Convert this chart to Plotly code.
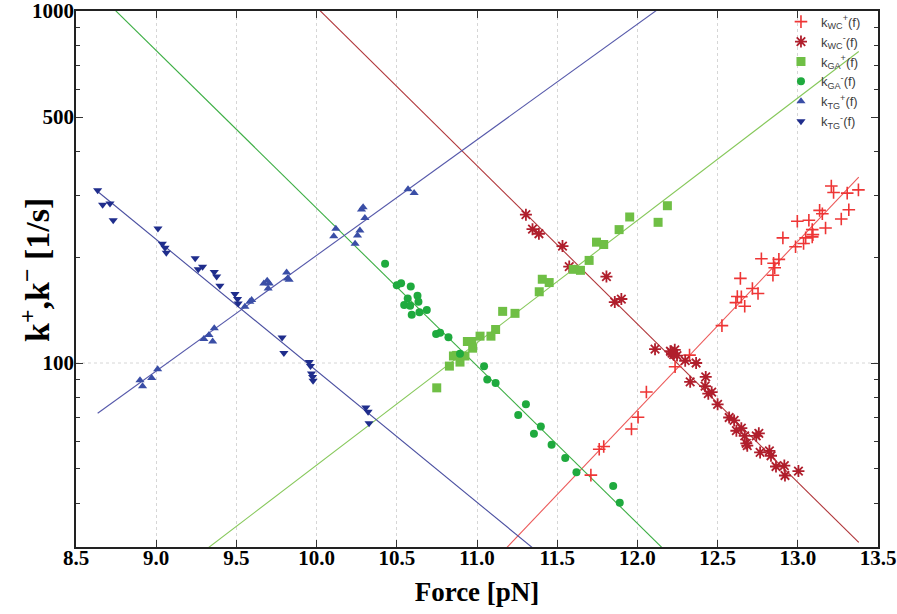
import plotly.graph_objects as go

# ---------------- data ----------------
wc_plus_x = [11.710, 11.762, 11.790, 11.963, 12.004, 12.056, 12.235, 12.325, 12.527, 12.614,
             12.623, 12.648, 12.642, 12.669, 12.717, 12.752, 12.773, 12.849, 12.856, 12.845,
             12.882, 12.907, 12.986, 12.997, 13.036, 13.049, 13.069, 13.090, 13.094, 13.090,
             13.136, 13.153, 13.173, 13.209, 13.223, 13.271, 13.308, 13.318, 13.378]
wc_plus_y = [48.0, 56.9, 57.9, 64.9, 70.1, 82.7, 97.6, 105.3, 127.7, 148.5,
             154.6, 154.3, 174.0, 145.0, 162.8, 157.6, 197.9, 192.0, 186.6, 177.6,
             197.0, 226.8, 213.9, 252.8, 218.5, 226.8, 254.4, 239.3, 231.7, 228.3,
             271.5, 265.6, 242.0, 318.6, 305.3, 256.7, 303.9, 272.7, 310.5]

wc_minus_x = [11.305, 11.346, 11.386, 11.533, 11.575, 11.807, 11.859, 11.900, 12.110, 12.206,
              12.216, 12.226, 12.233, 12.247, 12.298, 12.366, 12.426, 12.329, 12.422, 12.442,
              12.463, 12.500, 12.572, 12.603, 12.617, 12.648, 12.669, 12.679, 12.685, 12.741,
              12.757, 12.765, 12.823, 12.833, 12.864, 12.916, 12.920, 13.004]
wc_minus_y = [264.0, 240.0, 233.0, 215.0, 188.0, 176.0, 149.0, 152.0, 109.5, 108.0,
              106.7, 105.6, 109.0, 105.0, 101.5, 100.0, 91.3, 88.4, 86.0, 81.8,
              82.6, 76.3, 70.0, 68.7, 64.2, 65.3, 62.1, 59.1, 58.2, 62.1,
              63.1, 55.7, 56.3, 54.5, 50.8, 51.1, 47.9, 49.3]

ga_plus_x = [10.749, 10.828, 10.853, 10.873, 10.894, 10.925, 10.940, 10.967, 10.973, 11.019,
             11.087, 11.116, 11.160, 11.237, 11.388, 11.407, 11.450, 11.600, 11.645, 11.699,
             11.745, 11.790, 11.886, 11.952, 12.129, 12.187]
ga_plus_y = [85.0, 98.0, 104.7, 105.1, 100.6, 104.7, 115.1, 115.1, 110.2, 119.2,
             119.2, 124.5, 140.2, 138.4, 159.4, 173.0, 169.3, 184.6, 183.4, 195.7,
             220.5, 217.2, 239.4, 260.0, 251.1, 279.9]

ga_minus_x = [10.427, 10.500, 10.527, 10.587, 10.568, 10.546, 10.583, 10.629, 10.635, 10.593,
              10.641, 10.687, 10.745, 10.770, 10.822, 10.894, 11.044, 11.064, 11.116, 11.305,
              11.257, 11.398, 11.355, 11.465, 11.550, 11.620, 11.849, 11.890]
ga_minus_y = [191.5, 166.4, 168.6, 165.0, 152.6, 146.1, 145.4, 155.2, 149.3, 137.2,
              139.3, 141.4, 121.0, 121.8, 118.4, 106.2, 97.9, 89.7, 87.8, 76.3,
              71.2, 66.0, 62.9, 58.6, 53.7, 48.9, 44.7, 40.1]

tg_plus_x = [8.899, 8.915, 8.972, 9.009, 9.297, 9.329, 9.352, 9.362, 9.553, 9.584,
             9.595, 9.671, 9.692, 9.705, 9.698, 9.813, 9.819, 9.829, 10.107, 10.120,
             10.240, 10.255, 10.270, 10.280, 10.290, 10.301, 10.570, 10.608]
tg_plus_y = [89.3, 85.9, 90.7, 96.0, 117.1, 120.2, 115.2, 125.6, 144.6, 149.4,
             151.0, 168.3, 171.2, 168.3, 162.9, 180.7, 173.8, 172.4, 229.4, 240.7,
             218.3, 230.4, 238.0, 272.9, 277.1, 258.5, 312.0, 304.0]

tg_minus_x = [8.635, 8.666, 8.712, 8.732, 9.011, 9.038, 9.055, 9.063, 9.243, 9.262,
              9.289, 9.362, 9.377, 9.397, 9.491, 9.507, 9.511, 9.785, 9.796, 9.954,
              9.962, 9.968, 9.975, 9.978, 10.307, 10.321, 10.327]
tg_minus_y = [309.6, 281.8, 283.8, 254.6, 241.2, 218.3, 212.7, 205.9, 198.4, 184.7,
              187.6, 181.5, 176.1, 165.8, 157.0, 151.9, 147.7, 118.2, 106.7, 100.6,
              98.1, 93.3, 91.3, 89.1, 74.8, 72.7, 67.4]

# fitted exponential lines: values at the two ends of the fitted force range
fit_x = [8.635, 13.38]
fit_wc_plus_y = [1.785, 337.3]
fit_wc_minus_y = [4220.0, 30.9]
fit_ga_plus_y = [17.18, 768.0]
fit_ga_minus_y = [1126.0, 8.43]
fit_tg_plus_y = [72.0, 2609.0]
fit_tg_minus_y = [307.3, 5.19]

x_ticks = [8.5, 9.0, 9.5, 10.0, 10.5, 11.0, 11.5, 12.0, 12.5, 13.0, 13.5]
y_ticks = [100, 500, 1000]
y_minor = [40, 50, 60, 70, 80, 90, 200, 300, 400, 600, 700, 800, 900]

# ---------------- figure ----------------
fig = go.Figure()

lines = [
    (fit_wc_plus_y, "#ec5a5a"),
    (fit_wc_minus_y, "#b0363a"),
    (fit_ga_plus_y, "#86c85a"),
    (fit_ga_minus_y, "#3cae44"),
    (fit_tg_plus_y, "#5558aa"),
    (fit_tg_minus_y, "#4a4fa0"),
]
for ys, col in lines:
    fig.add_trace(go.Scatter(x=fit_x, y=ys, mode="lines",
                             line=dict(color=col, width=1.1),
                             showlegend=False, hoverinfo="skip"))

series = [
    (wc_plus_x, wc_plus_y, "k<sub>WC</sub><sup>+</sup>(f)",
     dict(symbol="cross-thin-open", size=9, color="#ee3535", line=dict(width=1.6, color="#ee3535"))),
    (wc_minus_x, wc_minus_y, "k<sub>WC</sub><sup>-</sup>(f)",
     dict(symbol="asterisk-open", size=10, color="#b01e2c", line=dict(width=1.8, color="#b01e2c"))),
    (ga_plus_x, ga_plus_y, "k<sub>GA</sub><sup>+</sup>(f)",
     dict(symbol="square", size=9, color="#6fbf45", line=dict(width=0))),
    (ga_minus_x, ga_minus_y, "k<sub>GA</sub><sup>-</sup>(f)",
     dict(symbol="circle", size=8, color="#1faa3e", line=dict(width=0))),
    (tg_plus_x, tg_plus_y, "k<sub>TG</sub><sup>+</sup>(f)",
     dict(symbol="triangle-up", size=8, color="#3a4ea6", line=dict(width=0))),
    (tg_minus_x, tg_minus_y, "k<sub>TG</sub><sup>-</sup>(f)",
     dict(symbol="triangle-down", size=8, color="#1f2d8c", line=dict(width=0))),
]
for xs, ys, name, mk in series:
    fig.add_trace(go.Scatter(x=xs, y=ys, mode="markers", name=name, marker=mk))

axis_font = dict(family="Liberation Serif", size=21, color="black")

fig.update_layout(
    width=897, height=614,
    margin=dict(l=76, r=19, t=7, b=67),
    paper_bgcolor="white", plot_bgcolor="white",
    font=dict(family="Liberation Serif", color="black"),
    legend=dict(x=0.985, y=1.008, xanchor="right", yanchor="top",
                bgcolor="rgba(0,0,0,0)", borderwidth=0,
                font=dict(family="Liberation Sans", size=13, color="#404040"),
                itemwidth=30, tracegroupgap=0),
    xaxis=dict(
        range=[8.5, 13.5], tickvals=x_ticks, automargin=False,
        ticktext=[f"<b>{v:.1f}</b>" for v in x_ticks],
        tickfont=axis_font, ticklabelstandoff=-9,
        ticks="inside", ticklen=7, tickwidth=1.2, tickcolor="#333",
        showline=True, linecolor="#222", linewidth=1.6, mirror="ticks",
        showgrid=True, gridcolor="#d6d6d6", griddash="dot", gridwidth=1,
        zeroline=False,
        title=dict(text="<b>Force [pN]</b>",
                   font=dict(family="Liberation Serif", size=27, color="black"),
                   standoff=13),
    ),
    yaxis=dict(
        type="log", range=[1.4771, 3.0004], automargin=False,
        tickvals=y_ticks, ticktext=[f"<b>{v}</b>" for v in y_ticks],
        tickfont=axis_font, ticklabelstandoff=-4, ticklabeloverflow="allow",
        ticks="inside", ticklen=7, tickwidth=1.2, tickcolor="#333",
        minor=dict(tickvals=y_minor, ticks="inside", ticklen=4, tickcolor="#333",
                   showgrid=False),
        showline=True, linecolor="#222", linewidth=1.6, mirror="ticks",
        showgrid=False, zeroline=False,
    ),
    shapes=[dict(type="line", xref="paper", yref="y", x0=0, x1=1, y0=100, y1=100,
                 line=dict(color="#d6d6d6", width=1, dash="dot"), layer="below")],
    annotations=[dict(text="<b>k<sup>+</sup>,k<sup>−</sup> [1/s]</b>",
                      xref="paper", yref="paper", x=0, y=0.5,
                      xanchor="center", yanchor="middle", xshift=-41, yshift=9,
                      textangle=-90, showarrow=False,
                      font=dict(family="Liberation Serif", size=34, color="black"))],
)

fig.write_html("out.html")
